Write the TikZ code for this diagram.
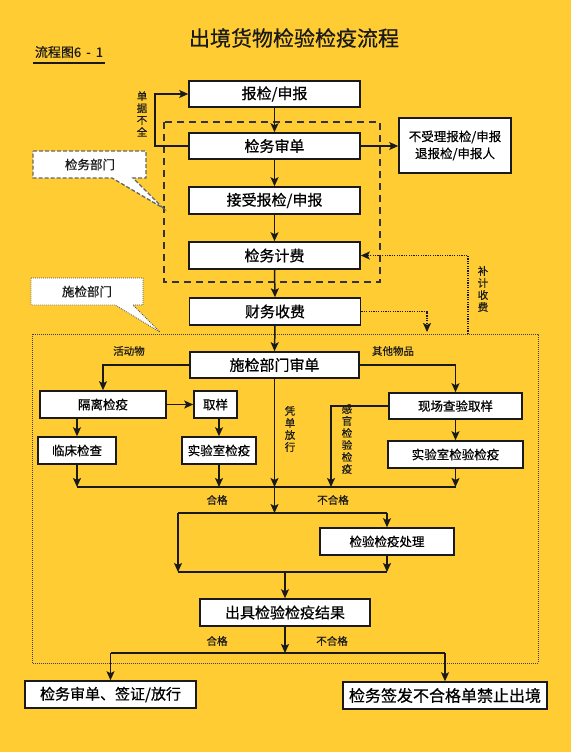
\documentclass[tikz,border=0pt]{standalone}
\usepackage{fontspec}
\setmainfont{Noto Sans CJK SC}[FakeBold=0.6]
\usetikzlibrary{arrows.meta,calc}
\definecolor{bgc}{HTML}{FFCC33}
\definecolor{ink}{HTML}{1A1A1A}
\begin{document}
\begin{tikzpicture}[x=1pt,y=-1pt,
  box/.style={draw=ink,line width=1.6pt,fill=white,inner sep=0pt,font=\fontsize{15}{15}\selectfont},
  sbox/.style={box,font=\fontsize{12.5}{12.5}\selectfont},
  arr/.style={draw=ink,line width=1.5pt,-{Stealth[length=9pt,width=8pt,inset=2pt]}},
  ln/.style={draw=ink,line width=1.5pt},
  dotln/.style={draw=ink,line width=1.5pt,dash pattern=on 1.2pt off 1.2pt},
  dotarr/.style={dotln,-{Stealth[length=9pt,width=8pt,inset=2pt]}},
  lbl/.style={font=\fontsize{10.5}{11}\selectfont,inner sep=0pt,text=ink},
  vlbl/.style={font=\fontsize{10.5}{12}\selectfont,align=center,inner sep=0pt,text=ink},
]
\fill[bgc] (0,0) rectangle (571,752);
\useasboundingbox (0,0) rectangle (571,752);

% title
\node[font=\fontsize{21}{21}\selectfont,text=ink] (title) at (294,38) {出境货物检验检疫流程};
\node[font=\fontsize{13}{13}\selectfont,text=ink,inner sep=0pt] (fig) at (69,52) {流程图6\,\ -\ \,1};
\draw[ink,line width=1.6pt] ($(fig.south west)+(-2,5)$) -- ($(fig.south east)+(2,5)$);

% frames
\draw[black!80,line width=1.2pt,dash pattern=on 7pt off 5pt] (164,122) rectangle (380,282);
\draw[black!75,line width=0.8pt,dash pattern=on 0.8pt off 1.2pt] (32,334) rectangle (538,663);

% callouts
\draw[black!60,fill=white,line width=1.3pt,dash pattern=on 4pt off 2pt]
  (33,151) -- (146,151) -- (146,178) -- (133,178) -- (163,208) -- (112,178) -- (33,178) -- cycle;
\node[font=\fontsize{12.5}{12.5}\selectfont,text=ink] (cjw) at (90,164.5) {检务部门};
\draw[black!70,fill=white,line width=0.9pt,dash pattern=on 0.8pt off 1.2pt]
  (31,278) -- (143,278) -- (143,305) -- (133,305) -- (160,332) -- (115,305) -- (31,305) -- cycle;
\node[font=\fontsize{12.5}{12.5}\selectfont,text=ink] (csj) at (87,291.5) {施检部门};

% upper boxes
\node[box,minimum width=171pt,minimum height=26pt] (bj) at (274.5,94) {报检/申报};
\node[box,minimum width=171pt,minimum height=26pt] (sd) at (274.5,146) {检务审单};
\node[box,minimum width=171pt,minimum height=27pt] (js) at (274.5,200.5) {接受报检/申报};
\node[box,minimum width=171pt,minimum height=27pt] (jf) at (274.5,255.5) {检务计费};
\node[box,minimum width=171pt,minimum height=27pt] (cw) at (275,311.5) {财务收费};
\node[sbox,minimum width=112pt,minimum height=55pt,align=center,font=\fontsize{12.5}{17}\selectfont] (bsl) at (455,145.5) {不受理报检/申报\\退报检/申报人};

% inspection boxes
\node[box,minimum width=169pt,minimum height=26pt] (sj) at (274.5,365) {施检部门审单};
\node[sbox,minimum width=126pt,minimum height=27pt] (gl) at (103,404.5) {隔离检疫};
\node[sbox,minimum width=43pt,minimum height=27pt] (qy) at (215.5,404.5) {取样};
\node[sbox,minimum width=78pt,minimum height=27pt] (lc) at (77,450.5) {临床检查};
\node[sbox,minimum width=74pt,minimum height=27pt] (sy) at (219,450.5) {实验室检疫};
\node[sbox,minimum width=133pt,minimum height=26pt] (xc) at (455.5,406) {现场查验取样};
\node[sbox,minimum width=135pt,minimum height=27pt] (sy2) at (455.5,454.5) {实验室检验检疫};
\node[sbox,minimum width=134pt,minimum height=27pt] (cl) at (387,541.5) {检验检疫处理};
\node[box,minimum width=170pt,minimum height=27pt] (cj) at (285,612.5) {出具检验检疫结果};
\node[box,minimum width=171pt,minimum height=27pt] (fx) at (110.5,694.5) {检务审单、签证/放行};
\node[box,minimum width=204pt,minimum height=27pt,font=\fontsize{16}{16}\selectfont] (jz) at (445,695.5) {检务签发不合格单禁止出境};

% upper connectors
\draw[arr] (bj.south) -- (sd.north);
\draw[arr] (sd.south) -- (js.north);
\draw[arr] (js.south) -- (jf.north);
\draw[arr] (jf.south) -- (cw.north);
\draw[arr] (cw.south) -- (sj.north);
\coordinate (lp) at (155,146);
\draw[arr] (sd.west) -- (lp) |- (bj.west);
\node[vlbl] (ljq) at (142,114) {单\\据\\不\\全};
\draw[arr] (sd.east) -- (sd.east -| bsl.west);

% dotted fee lines
\coordinate (cwd) at (427,332);
\draw[dotarr] (cw.east) -| (cwd);
\coordinate (bjb) at (468,334);
\draw[dotarr] (bjb) |- (jf.east);
\node[vlbl] (lbj) at (483,289) {补\\计\\收\\费};

% inspection connectors
\draw[arr] (sj.west) -| (gl.north);
\draw[arr] (sj.east) -| (xc.north);
\node[lbl] (lhd) at (129,351) {活动物};
\node[lbl] (lqt) at (393,351) {其他物品};
\draw[arr] (gl.east) -- (qy.west);
\draw[arr] (lc.north |- gl.south) -- (lc.north);
\draw[arr] (sy.north |- qy.south) -- (sy.north);
\draw[arr] (xc.south) -- (sy2.north);

\coordinate (h1L) at (77,487);
\coordinate (h1R) at (455.5,487);
\coordinate (h1C) at (274.5,487);
\coordinate (gg) at (331,487);
\draw[ln] (h1L) -- (h1R);
\draw[arr] (lc.south) -- (lc.south |- h1L);
\draw[arr] (sy.south) -- (sy.south |- h1L);
\draw[arr] (sy2.south) -- (sy2.south |- h1L);
\draw[arr] (xc.west) -| (gg);
\draw[arr] (sj.south) -- (h1C);
\node[vlbl] (lpd) at (290,429) {凭\\单\\放\\行};
\node[vlbl] (lgg) at (347,439) {感\\官\\检\\验\\检\\疫};
\node[lbl] (lhg1) at (217,500) {合格};
\node[lbl] (lbh1) at (333,500) {不合格};

\coordinate (h2L) at (178,513);
\coordinate (h2R) at (387,513);
\coordinate (h2C) at (274.5,513);
\coordinate (h3L) at (178,572);
\coordinate (h3R) at (387,572);
\draw[ln] (h2L) -- (h2R);
\draw[arr] (h1C) -- (h2C);
\draw[arr] (h2R) -- (cl.north);
\draw[arr] (h2L) -- (h3L);
\draw[arr] (cl.south) -- (h3R);
\draw[ln] (h3L) -- (h3R);
\draw[arr] (cj.north |- h3L) -- (cj.north);

\coordinate (h4) at (285,653);
\draw[arr] (cj.south) -- (h4);
\draw[ln] (fx.north |- h4) -- (jz.north |- h4);
\draw[arr] (fx.north |- h4) -- (fx.north);
\draw[arr] (jz.north |- h4) -- (jz.north);
\node[lbl] (lhg2) at (217,641) {合格};
\node[lbl] (lbh2) at (332,641) {不合格};
\end{tikzpicture}
\end{document}
